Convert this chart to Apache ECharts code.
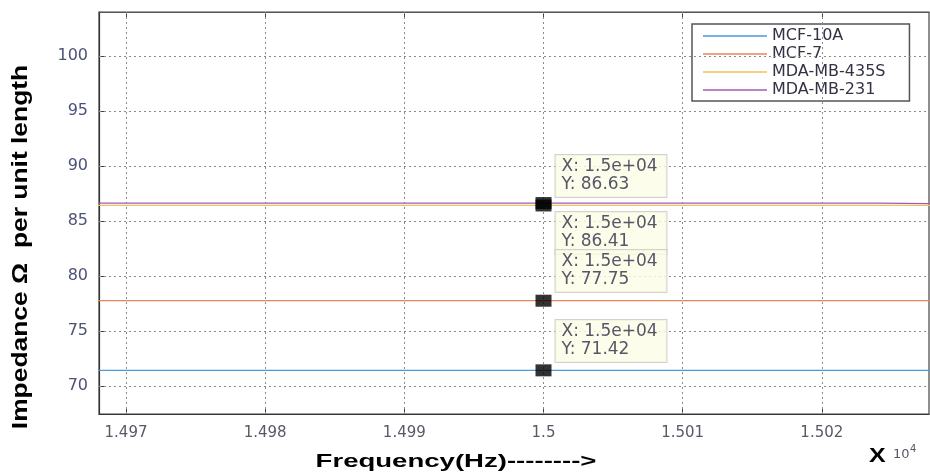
<!DOCTYPE html>
<html>
<head>
<meta charset="utf-8">
<script src="https://cdn.jsdelivr.net/npm/echarts@6/dist/echarts.min.js"></script>
<style>
  html, body { margin: 0; padding: 0; background: #fff; }
  #chart { width: 930px; height: 476px; }
</style>
</head>
<body>
<div id="chart"></div>
<script>
// data
const cellLines = ['MCF-10A', 'MCF-7', 'MDA-MB-435S', 'MDA-MB-231'];
const lineColors = ['#4a9ad8', '#e8825a', '#f2c05a', '#a05cb4'];
const impedance = [71.42, 77.75, 86.41, 86.63];
const freqSpan = [14960, 15030];
// MDA-MB-231 drops slightly near the right edge
const mb231Freq = [14960, 15024.1, 15024.1, 15030];
const mb231Vals = [86.63, 86.63, 86.55, 86.55];

const xTicks = [14970, 14980, 14990, 15000, 15010, 15020];
const yTicks = [70, 75, 80, 85, 90, 95, 100];

// data tips (top to bottom in drawing order)
const tipFreq = 15000;
const tipValues = [86.63, 86.41, 77.75, 71.42];
const tipOffsets = [[20, -42], [20, 12.5], [20, -44.75], [20, -44.4]];

const chart = echarts.init(document.getElementById('chart'));

const wideFont = 'DejaVu Sans, Verdana, sans-serif';
const boldFont = 'Liberation Sans, Arial, sans-serif';

function tipText(x, y) {
    const e = x.toExponential(1).replace(/e\+(\d)$/, 'e+0$1');
    return 'X: ' + e + '\nY: ' + y.toFixed(2);
}

let series = cellLines.map((name, i) => {
    let data;
    if (name === 'MDA-MB-231') {
        data = mb231Freq.map((f, k) => [f, mb231Vals[k]]);
    } else {
        data = freqSpan.map(f => [f, impedance[i]]);
    }
    return {
        name: name,
        type: 'line',
        data: data,
        symbol: 'none',
        color: lineColors[i],
        lineStyle: { width: 1.3, color: lineColors[i] },
        clip: true,
        z: 3
    };
});

// grid lines
series.push({
    type: 'line',
    data: [],
    silent: true,
    markLine: {
        silent: true,
        symbol: 'none',
        label: { show: false },
        lineStyle: { color: '#8a8a8a', type: [2, 3], width: 1 },
        data: yTicks.map(v => ({ yAxis: v })).concat(xTicks.map(v => ({ xAxis: v })))
    },
    z: 1
});

// data tip markers + boxes
series.push({
    type: 'scatter',
    symbol: 'rect',
    symbolSize: [16, 12],
    itemStyle: { color: '#000' },
    z: 5,
    data: tipValues.map((v, i) => ({
        value: [tipFreq, v],
        label: {
            show: true,
            position: tipOffsets[i],
            align: 'left',
            verticalAlign: 'top',
            formatter: tipText(tipFreq, v),
            fontFamily: wideFont,
            fontSize: 17,
            lineHeight: 18,
            color: '#2c2c46',
            backgroundColor: '#fcfce6',
            borderColor: '#c8c8c0',
            borderWidth: 1,
            padding: [3, 6, 3, 6],
            width: 99
        }
    }))
});

const option = {
    animation: false,
    backgroundColor: '#fff',
    grid: {
        left: 99, right: 1, top: 12, bottom: 62,
        show: true, borderColor: '#444', borderWidth: 1.2
    },
    legend: {
        data: cellLines,
        orient: 'vertical',
        left: 692,
        top: 24,
        icon: 'rect',
        itemWidth: 64,
        itemHeight: 1.5,
        itemGap: 2,
        padding: [4, 24, 3, 11],
        backgroundColor: '#fff',
        borderColor: '#555',
        borderWidth: 1.5,
        textStyle: { fontFamily: wideFont, fontSize: 16, color: '#333344' }
    },
    xAxis: [{
        type: 'value',
        min: 14968.06,
        max: 15027.7,
        axisLine: { show: true, lineStyle: { color: '#333', width: 1.2 } },
        axisTick: { inside: true, length: 6, customValues: xTicks, lineStyle: { color: '#444' } },
        axisLabel: {
            customValues: xTicks,
            formatter: v => String(v / 1e4),
            fontFamily: wideFont, fontSize: 15, color: '#585868', margin: 12
        },
        splitLine: { show: false }
    }, {
        type: 'value',
        position: 'top',
        min: 14968.06,
        max: 15027.7,
        axisLine: { show: true, lineStyle: { color: '#555' } },
        axisTick: { inside: true, length: 6, customValues: xTicks, lineStyle: { color: '#444' } },
        axisLabel: { show: false },
        splitLine: { show: false }
    }],
    yAxis: {
        type: 'value',
        min: 67.45,
        max: 104,
        axisLine: { show: true, lineStyle: { color: '#333', width: 1.2 } },
        axisTick: { show: true, inside: true, length: 6, customValues: yTicks, lineStyle: { color: '#444' } },
        axisLabel: {
            customValues: yTicks,
            fontFamily: wideFont, fontSize: 16, color: '#4c5276', margin: 11
        },
        splitLine: { show: false }
    },
    graphic: [
        {
            type: 'text',
            x: 21, y: 247,
            rotation: Math.PI / 2,
            scaleX: 1.2,
            style: {
                text: 'Impedance \u03A9  per unit length',
                font: 'bold 22px ' + boldFont,
                fill: '#000',
                align: 'center',
                verticalAlign: 'middle'
            }
        },
        {
            type: 'text',
            x: 456, y: 462,
            scaleX: 1.45,
            style: {
                text: 'Frequency(Hz)-------->',
                font: 'bold 19px ' + boldFont,
                fill: '#000',
                align: 'center',
                verticalAlign: 'middle'
            }
        },
        {
            type: 'text',
            x: 869, y: 456,
            scaleX: 1.25,
            style: {
                text: 'X',
                font: 'bold 20px ' + boldFont,
                fill: '#000',
                align: 'left',
                verticalAlign: 'middle'
            }
        },
        {
            type: 'text',
            x: 893, y: 455,
            style: {
                text: '10',
                font: '13px ' + wideFont,
                fill: '#585868',
                align: 'left',
                verticalAlign: 'middle'
            }
        },
        {
            type: 'text',
            x: 910, y: 449,
            style: {
                text: '4',
                font: '10px ' + wideFont,
                fill: '#585868',
                align: 'left',
                verticalAlign: 'middle'
            }
        }
    ],
    series: series
};

chart.setOption(option);
</script>
</body>
</html>
